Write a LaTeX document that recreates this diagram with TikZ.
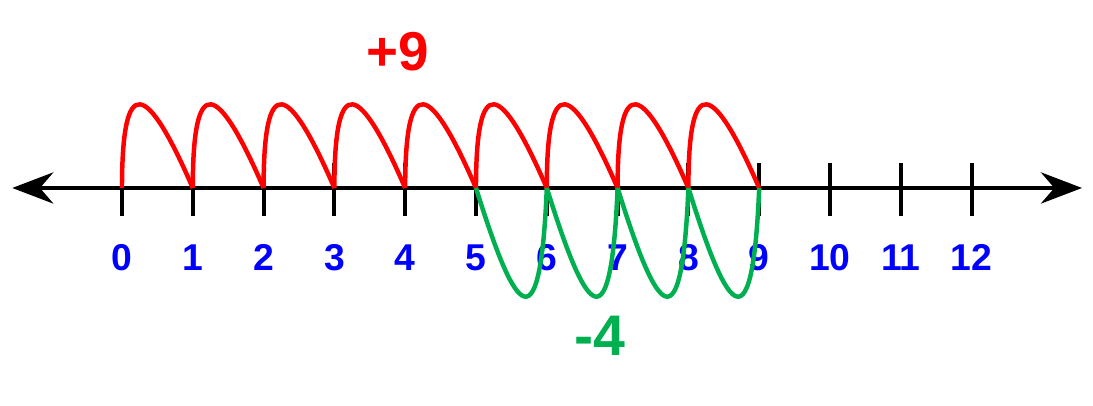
\documentclass[tikz,border=0pt]{standalone}
\usepackage{fontspec}
\setmainfont{Liberation Sans}
\usetikzlibrary{arrows.meta}
\definecolor{jumpgreen}{RGB}{0,176,80}
\definecolor{numblue}{RGB}{0,0,255}
\begin{document}
\begin{tikzpicture}
    \tikzstyle{axisline}=[black,line width=1.6pt,{Stealth[length=0.58cm,width=0.44cm]}-{Stealth[length=0.58cm,width=0.44cm]}]
    \tikzstyle{tickmark}=[black,line width=1.6pt]
    \tikzstyle{numlabel}=[text=numblue,font=\fontsize{15}{17}\selectfont\bfseries,inner sep=0pt]
    \tikzstyle{hopup}=[red,line width=1.8pt]
    \tikzstyle{hopdown}=[jumpgreen,line width=1.8pt]
    \useasboundingbox (-1.723,-3.079) rectangle (13.715,2.655);
    \coordinate (left) at (-1.55,0);
    \coordinate (right) at (13.56,0);
    \draw [axisline] (left) -- (right);
    \foreach \i in {0,...,12} {
        \coordinate (t\i) at (\i,0);
        \draw [tickmark] (t\i) +(0,0.35) -- +(0,-0.39);
        \node [numlabel] (l\i) at (\i,-0.98) {\i};
    }
    % nine jumps forward
    \foreach \i [evaluate=\i as \j using int(\i+1)] in {0,...,8}
        \draw [hopup] (t\i) .. controls +(0,1.65) and +(-0.65,1.5) .. (t\j);
    % four jumps back
    \foreach \i [evaluate=\i as \j using int(\i+1)] in {5,...,8}
        \draw [hopdown] (t\i) .. controls +(0.5,-1.6) and +(-0.1,-2.45) .. (t\j);
    \node [text=red,font=\fontsize{22}{24}\selectfont\bfseries] (plus) at (3.9,1.93) {+9};
    \node [text=jumpgreen,font=\fontsize{23}{25}\selectfont\bfseries] (minus) at (6.75,-2.09) {-4};
\end{tikzpicture}
\end{document}
